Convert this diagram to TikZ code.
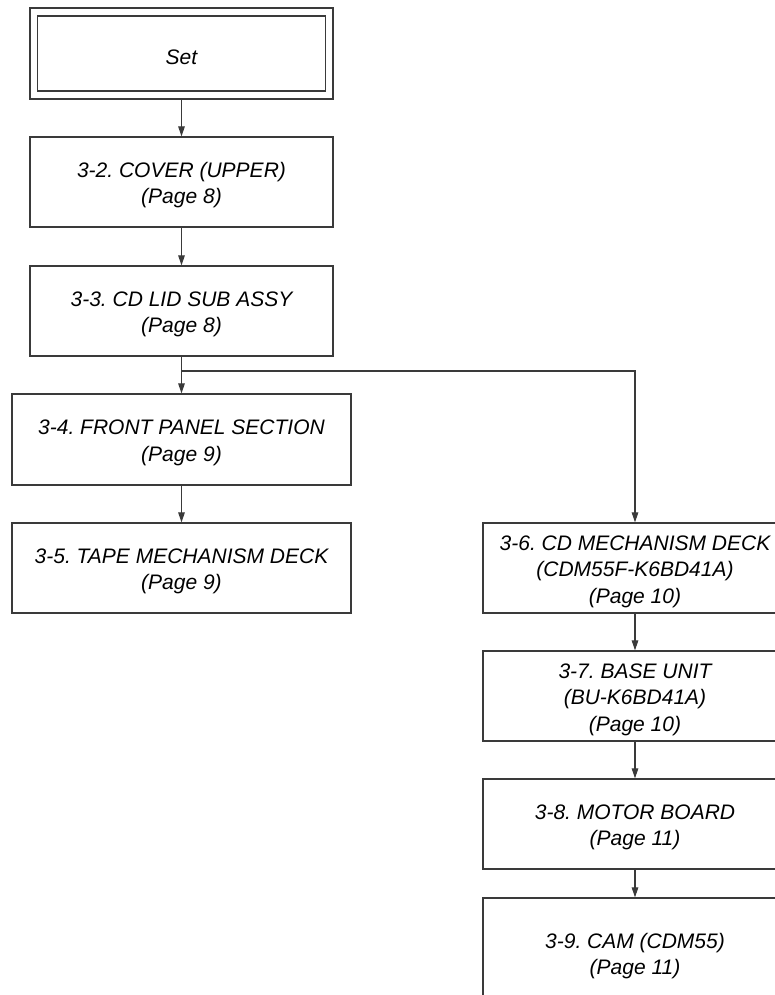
\documentclass[tikz,border=0pt]{standalone}
\usepackage{fontspec}
\setmainfont{Liberation Sans}
\usetikzlibrary{arrows.meta}
\definecolor{edge}{HTML}{3A3A3A}
\newcommand{\tl}{\rule{0pt}{21.5pt}}
\tikzset{
  box/.style={draw=edge, line width=1.2pt, rectangle, inner sep=0pt, align=center,
    font=\fontsize{21}{26.5}\selectfont\itshape\frenchspacing, text=black},
  conn/.style={draw=edge, line width=1.1pt, -{Triangle[length=10pt,width=6.5pt]}},
}
\begin{document}
\begin{tikzpicture}[x=1pt,y=-1pt]
\useasboundingbox (0,0) rectangle (775,995);
\clip (0,0) rectangle (775,995);
\node[box, minimum width=303pt, minimum height=91pt] (set) at (181.5,53.5) {};
\node[box, minimum width=288pt, minimum height=75pt] (setin) at (181.5,53.5) {\tl Set};
\node[box, minimum width=303pt, minimum height=90pt] (b32) at (181.5,182) {\tl 3-2. COVER (UPPER)\\(Page 8)};
\node[box, minimum width=303pt, minimum height=90pt] (b33) at (181.5,311) {\tl 3-3. CD LID SUB ASSY\\(Page 8)};
\node[box, minimum width=339pt, minimum height=91pt] (b34) at (181.5,439.5) {\tl 3-4. FRONT PANEL SECTION\\(Page 9)};
\node[box, minimum width=339pt, minimum height=90pt] (b35) at (181.5,568) {\tl 3-5. TAPE MECHANISM DECK\\(Page 9)};
\node[box, minimum width=304pt, minimum height=90pt] (b36) at (635,568) {\tl 3-6. CD MECHANISM DECK\\(CDM55F-K6BD41A)\\(Page 10)};
\node[box, minimum width=304pt, minimum height=90pt] (b37) at (635,696) {\tl 3-7. BASE UNIT\\(BU-K6BD41A)\\(Page 10)};
\node[box, minimum width=304pt, minimum height=90pt] (b38) at (635,824) {\tl 3-8. MOTOR BOARD\\(Page 11)};
\node[box, minimum width=304pt, minimum height=110pt] (b39) at (635,953) {\tl 3-9. CAM (CDM55)\\(Page 11)};
\coordinate (br) at (181.5,371);
\draw[conn] (set.south) -- (b32.north);
\draw[conn] (b32.south) -- (b33.north);
\draw[conn] (b33.south) -- (b34.north);
\draw[conn] (b34.south) -- (b35.north);
\draw[conn] (br) -| (b36.north);
\draw[conn] (b36.south) -- (b37.north);
\draw[conn] (b37.south) -- (b38.north);
\draw[conn] (b38.south) -- (b39.north);
\end{tikzpicture}
\end{document}
